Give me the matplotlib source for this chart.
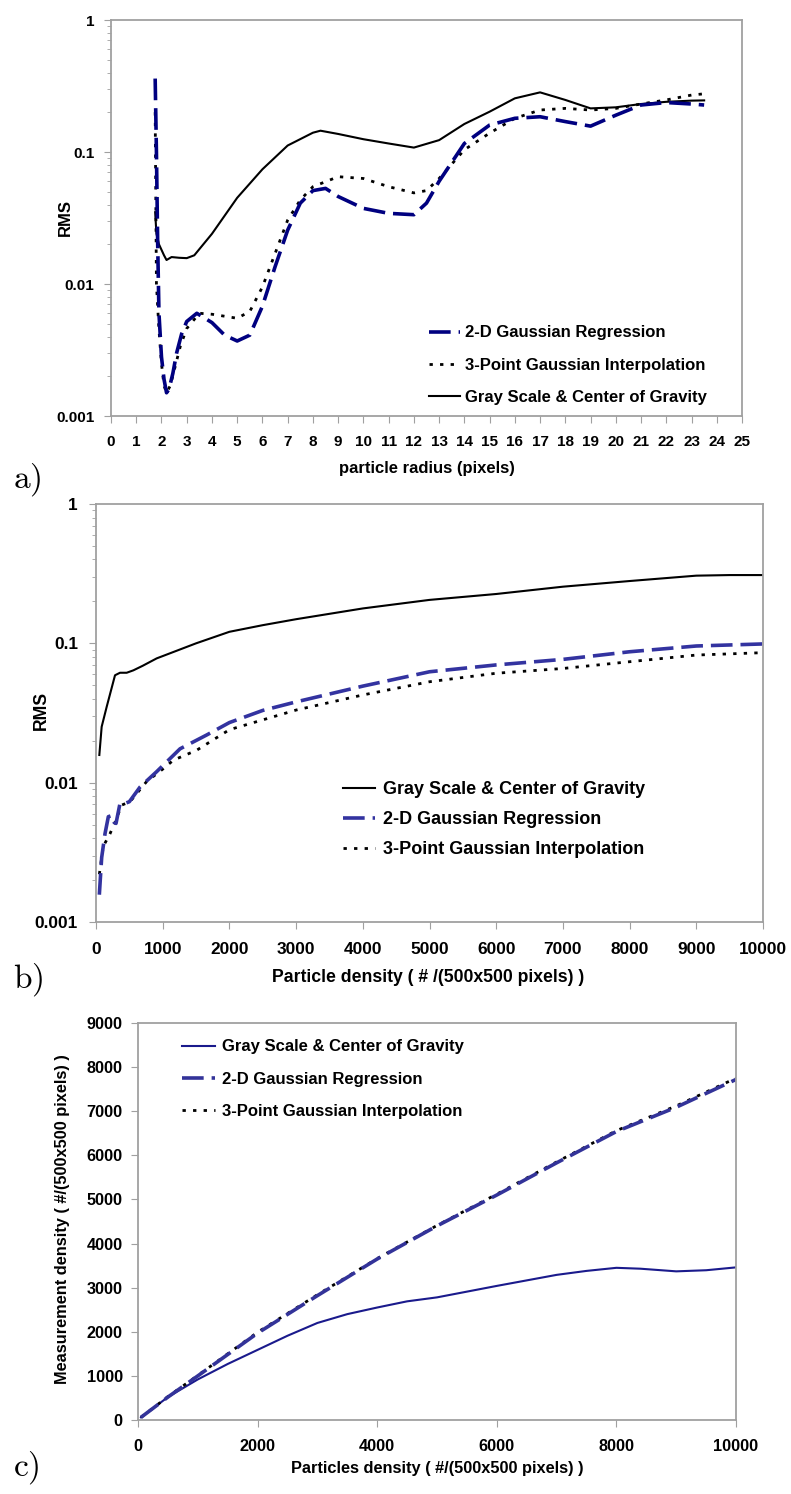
import matplotlib
matplotlib.use("Agg")
import matplotlib.pyplot as plt
from matplotlib.ticker import FixedLocator, LogLocator, NullFormatter

plt.rcParams["font.family"] = ["Liberation Sans", "DejaVu Sans"]
plt.rcParams["font.weight"] = "bold"
plt.rcParams["mathtext.fontset"] = "cm"

# ---- panel a: RMS vs particle radius ----
a_r_gray = [1.75, 1.8, 1.9, 2.1, 2.2, 2.4, 2.7, 3.0, 3.3, 4, 5, 6, 7, 8, 8.3, 9, 10, 11, 12,
            13, 14, 15, 16, 17, 18, 19, 20, 21, 22, 23, 23.5]
a_gray = [0.035, 0.024, 0.020, 0.0165, 0.0152, 0.016, 0.0158, 0.0157, 0.0165, 0.024, 0.045,
          0.074, 0.112, 0.140, 0.145, 0.137, 0.125, 0.116, 0.108, 0.123, 0.163, 0.202, 0.255,
          0.283, 0.248, 0.214, 0.218, 0.231, 0.240, 0.245, 0.246]
a_r_reg = [1.75, 1.8, 1.85, 1.9, 2.0, 2.1, 2.2, 2.3, 2.45, 2.6, 2.8, 3.0, 3.4, 4.0, 4.5, 5.0,
           5.5, 6.0, 6.5, 7.0, 7.5, 8.0, 8.5, 9.0, 10, 11, 12, 12.5, 13, 14, 15, 16, 17, 18,
           19, 20, 21, 22, 23, 23.5]
a_reg = [0.36, 0.1, 0.02, 0.006, 0.0028, 0.0019, 0.0015, 0.0016, 0.0021, 0.003, 0.0042, 0.0052,
         0.006, 0.0051, 0.0041, 0.0037, 0.0041, 0.0068, 0.0135, 0.0256, 0.041, 0.051, 0.053,
         0.046, 0.0374, 0.0343, 0.0335, 0.041, 0.060, 0.116, 0.160, 0.180, 0.185, 0.170, 0.157,
         0.19, 0.227, 0.237, 0.231, 0.227]
a_r_int = [1.75, 1.8, 1.9, 2.0, 2.1, 2.2, 2.35, 2.5, 2.75, 3.0, 3.5, 4.0, 4.5, 5.0, 5.5, 6.0,
           6.5, 7.0, 7.5, 8.0, 9, 10, 11, 12, 12.5, 13, 14, 15, 16, 17, 18, 19, 20, 21, 22, 23,
           23.5]
a_int = [0.2, 0.01, 0.0045, 0.0025, 0.0017, 0.0015, 0.0017, 0.0022, 0.0034, 0.0046, 0.006,
         0.0059, 0.0057, 0.0055, 0.0062, 0.0095, 0.017, 0.0305, 0.0433, 0.0546, 0.065, 0.063,
         0.0546, 0.049, 0.051, 0.063, 0.104, 0.139, 0.18, 0.208, 0.214, 0.208, 0.214, 0.231,
         0.248, 0.27, 0.276]

# ---- panel b: RMS vs particle density ----
b_d_gray = [50, 85, 160, 285, 360, 460, 560, 700, 910, 1000, 1500, 2000, 2500, 3000, 4000,
            5000, 6000, 7000, 8000, 9000, 9500, 10000]
b_gray = [0.0158, 0.0252, 0.035, 0.059, 0.0615, 0.0615, 0.064, 0.069, 0.078, 0.081, 0.1,
          0.121, 0.135, 0.149, 0.178, 0.205, 0.226, 0.255, 0.28, 0.306, 0.309, 0.309]
b_d_reg = [50, 85, 135, 185, 235, 270, 300, 360, 435, 500, 660, 910, 1260, 1660, 2000, 2500,
           3000, 4000, 5000, 6000, 7000, 8000, 9000, 10000]
b_reg = [0.00157, 0.0029, 0.0043, 0.0057, 0.0058, 0.0052, 0.0051, 0.0071, 0.0071, 0.0073,
         0.0093, 0.012, 0.0175, 0.022, 0.027, 0.033, 0.038, 0.0493, 0.0625, 0.070, 0.0767,
         0.087, 0.0957, 0.099]
b_d_int = [50, 110, 210, 285, 385, 510, 760, 1000, 1160, 1510, 2000, 3000, 4000, 5000, 6000,
           7000, 8000, 9000, 10000]
b_int = [0.0022, 0.0035, 0.0043, 0.0052, 0.0069, 0.0073, 0.0102, 0.0125, 0.0145, 0.0171,
         0.024, 0.0332, 0.0426, 0.053, 0.061, 0.066, 0.0738, 0.0824, 0.0857]

# ---- panel c: measured vs true density ----
c_d_gray = [50, 500, 1000, 1500, 2000, 2500, 3000, 3500, 4000, 4500, 5000, 6000, 7000, 7500,
            8000, 8400, 9000, 9500, 10000]
c_gray = [60, 520, 920, 1270, 1590, 1910, 2200, 2400, 2550, 2690, 2780, 3040, 3290, 3380,
          3450, 3430, 3370, 3395, 3460]
c_d = [50, 500, 1000, 2000, 3000, 4000, 5000, 6000, 7000, 8000, 9000, 10000]
c_reg = [60, 520, 1000, 1970, 2820, 3650, 4400, 5100, 5830, 6540, 7090, 7720]
c_int = [60, 530, 1010, 1990, 2840, 3660, 4410, 5120, 5850, 6560, 7120, 7750]

lab_gray = "Gray Scale & Center of Gravity"
lab_reg = "2-D Gaussian Regression"
lab_int = "3-Point Gaussian Interpolation"

W, H = 791, 1494
fig = plt.figure(figsize=(W / 100, H / 100), dpi=100)


def px_axes(left, top, right, bottom):
    return fig.add_axes([left / W, 1 - bottom / H, (right - left) / W, (bottom - top) / H])


def style(ax, size, xpad, ypad):
    for s in ax.spines.values():
        s.set_color("#a0a0a0")
        s.set_linewidth(1.3)
    ax.tick_params(which="both", direction="out", color="#a0a0a0", labelsize=size)
    ax.tick_params(axis="x", pad=xpad)
    ax.tick_params(axis="y", pad=ypad)
    ax.tick_params(which="major", length=5)
    ax.tick_params(which="minor", length=3)


def log_style(ax):
    ax.set_yscale("log")
    ax.set_ylim(0.001, 1)
    ax.yaxis.set_major_locator(FixedLocator([0.001, 0.01, 0.1, 1]))
    ax.set_yticklabels(["0.001", "0.01", "0.1", "1"])
    ax.yaxis.set_minor_locator(LogLocator(base=10, subs=range(2, 10)))
    ax.yaxis.set_minor_formatter(NullFormatter())


def put_legend(ax, order, x, y, size, hl, tp, ls):
    h, l = ax.get_legend_handles_labels()
    ax.legend([h[i] for i in order], [l[i] for i in order], loc="upper left",
              bbox_to_anchor=(x / W, 1 - y / H), bbox_transform=fig.transFigure,
              frameon=False, fontsize=size, borderpad=0, borderaxespad=0,
              handlelength=hl, handletextpad=tp, labelspacing=ls)


dash_reg = (0, (6, 2.2))
dot_int = (0, (1.2, 2.6))

# panel a
ax1 = px_axes(111, 20, 742, 416)
style(ax1, 11, 9, 7)
log_style(ax1)
ax1.plot(a_r_gray, a_gray, color="black", lw=1.5, label=lab_gray)
ax1.plot(a_r_int, a_int, color="black", lw=2.0, linestyle=dot_int, label=lab_int)
ax1.plot(a_r_reg, a_reg, color="#000080", lw=2.6, linestyle=dash_reg, label=lab_reg)
ax1.set_xlim(0, 25)
ax1.set_xticks(range(0, 26))
ax1.set_xlabel("particle radius (pixels)", fontsize=12, fontweight="bold")
ax1.set_ylabel("RMS", fontsize=12, fontweight="bold")
ax1.xaxis.set_label_coords(0.5, -0.114)
ax1.yaxis.set_label_coords(-0.06, 0.5)
put_legend(ax1, [2, 1, 0], 429, 325.5, 12, 1.86, 0.3, 1.04)

# panel b
ax2 = px_axes(96, 504, 763, 922)
style(ax2, 12.4, 9.5, 8)
log_style(ax2)
ax2.plot(b_d_gray, b_gray, color="black", lw=1.5, label=lab_gray)
ax2.plot(b_d_int, b_int, color="black", lw=2.0, linestyle=dot_int, label=lab_int)
ax2.plot(b_d_reg, b_reg, color="#3333a0", lw=2.6, linestyle=dash_reg, label=lab_reg)
ax2.set_xlim(0, 10000)
ax2.set_xticks(range(0, 10001, 1000))
ax2.set_xlabel("Particle density ( # /(500x500 pixels) )", fontsize=12.7, fontweight="bold")
ax2.set_ylabel("RMS", fontsize=12.7, fontweight="bold")
ax2.xaxis.set_label_coords(0.4985, -0.112)
ax2.yaxis.set_label_coords(-0.069, 0.507)
put_legend(ax2, [0, 2, 1], 343, 781, 13, 1.78, 0.44, 0.72)

# panel c
ax3 = px_axes(138, 1023, 736, 1420)
style(ax3, 11.7, 8.6, 6)
ax3.plot(c_d_gray, c_gray, color="#1a1a8c", lw=1.5, label=lab_gray)
ax3.plot(c_d, c_int, color="black", lw=2.0, linestyle=dot_int, label=lab_int)
ax3.plot(c_d, c_reg, color="#333399", lw=2.6, linestyle=dash_reg, label=lab_reg)
ax3.set_xlim(0, 10000)
ax3.set_ylim(0, 9000)
ax3.set_xticks(range(0, 10001, 2000))
ax3.set_yticks(range(0, 9001, 1000))
ax3.set_xlabel("Particles density ( #/(500x500 pixels) )", fontsize=11.8, fontweight="bold")
ax3.set_ylabel("Measurement density ( #/(500x500 pixels) )", fontsize=11.8, fontweight="bold")
ax3.xaxis.set_label_coords(0.5008, -0.103)
ax3.yaxis.set_label_coords(-0.114, 0.505)
put_legend(ax3, [0, 2, 1], 182, 1039.5, 12, 1.98, 0.42, 1.04)

# panel letters
for txt, y in [("a)", 480), ("b)", 980), ("c)", 1468)]:
    fig.text(13 / W, 1 - y / H, r"$\mathrm{%s}$" % txt, fontsize=24, va="center", ha="left")

fig.savefig("out.png", dpi=100, facecolor="white")
